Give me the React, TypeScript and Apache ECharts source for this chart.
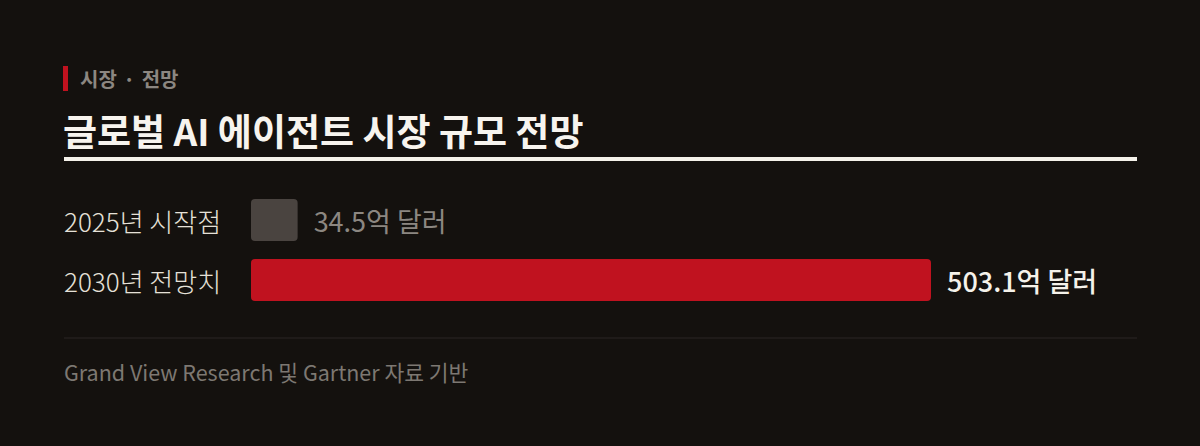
import React, { useEffect, useRef } from "react";
import * as echarts from "echarts";

const kickerLeft = "시장";
const kickerRight = "전망";
const title = "글로벌 AI 에이전트 시장 규모 전망";
const categories = ["2025년 시작점", "2030년 전망치"];
const values = [34.5, 503.1];
const valueLabels = ["34.5억 달러", "503.1억 달러"];
const source = "Grand View Research 및 Gartner 자료 기반";

const FONT = '"Noto Sans CJK KR", "Noto Sans", sans-serif';
const BG = "#14110e";
const RED = "#c0121f";

const App = () => {
  const chartRef = useRef<HTMLDivElement>(null);

  useEffect(() => {
    document.body.style.margin = "0";
    if (!chartRef.current) return;
    const chart = echarts.init(chartRef.current, undefined, { renderer: "svg" });
    chart.setOption({
      animation: false,
      backgroundColor: BG,
      textStyle: { fontFamily: FONT },
      grid: { left: 251, right: 269, top: 190, height: 120 },
      xAxis: {
        type: "value",
        min: 0,
        max: values[1],
        show: false,
      },
      yAxis: {
        type: "category",
        data: categories,
        inverse: true,
        axisLine: { show: false },
        axisTick: { show: false },
        splitLine: { show: false },
        axisLabel: {
          align: "left",
          margin: 187,
          fontSize: 26,
          fontWeight: 300,
          color: "#e6e1d8",
          fontFamily: FONT,
        },
      },
      series: [
        {
          type: "bar",
          barWidth: 42,
          data: [
            {
              value: values[0],
              itemStyle: { color: "#4a4440", borderRadius: 4 },
              label: { color: "#8c8781", fontWeight: "normal" },
            },
            {
              value: values[1],
              itemStyle: { color: RED, borderRadius: 4 },
              label: { color: "#f5f2ea", fontWeight: 500 },
            },
          ],
          label: {
            show: true,
            position: "right",
            distance: 16,
            fontSize: 27,
            fontFamily: FONT,
            formatter: (p: any) => valueLabels[p.dataIndex],
          },
        },
      ],
      graphic: [
        {
          type: "rect",
          shape: { x: 63, y: 66, width: 5, height: 25 },
          style: { fill: RED },
        },
        {
          type: "text",
          x: 80,
          y: 78,
          style: {
            text: `{a|${kickerLeft}}{d| · }{a|${kickerRight}}`,
            fill: "#8c8781",
            font: `bold 20px ${FONT}`,
            verticalAlign: "middle",
            rich: {
              a: { fontSize: 20, fontWeight: "bold", fontFamily: FONT, fill: "#8c8781" },
              d: { fontSize: 20, fontWeight: "bold", fontFamily: FONT, fill: "#8c8781", padding: [0, 2] },
            },
          },
        },
        {
          type: "text",
          x: 63,
          y: 130,
          style: {
            text: title,
            fill: "#f7f4ee",
            font: `bold 37px ${FONT}`,
            verticalAlign: "middle",
          },
        },
        {
          type: "rect",
          shape: { x: 64, y: 157, width: 1073, height: 4 },
          style: { fill: "#f5f2ea" },
        },
        {
          type: "rect",
          shape: { x: 64, y: 337.5, width: 1073, height: 1 },
          style: { fill: "#2b2724" },
        },
        {
          type: "text",
          x: 64,
          y: 371,
          style: {
            text: source,
            fill: "#7d7872",
            font: `21.5px ${FONT}`,
            verticalAlign: "middle",
          },
        },
      ],
    });
    return () => {
      chart.dispose();
    };
  }, []);

  return (
    <div
      ref={chartRef}
      style={{ width: "1200px", height: "446px", background: BG }}
      aria-label="글로벌 AI 에이전트 시장 규모 전망"
    />
  );
};

export default App;
